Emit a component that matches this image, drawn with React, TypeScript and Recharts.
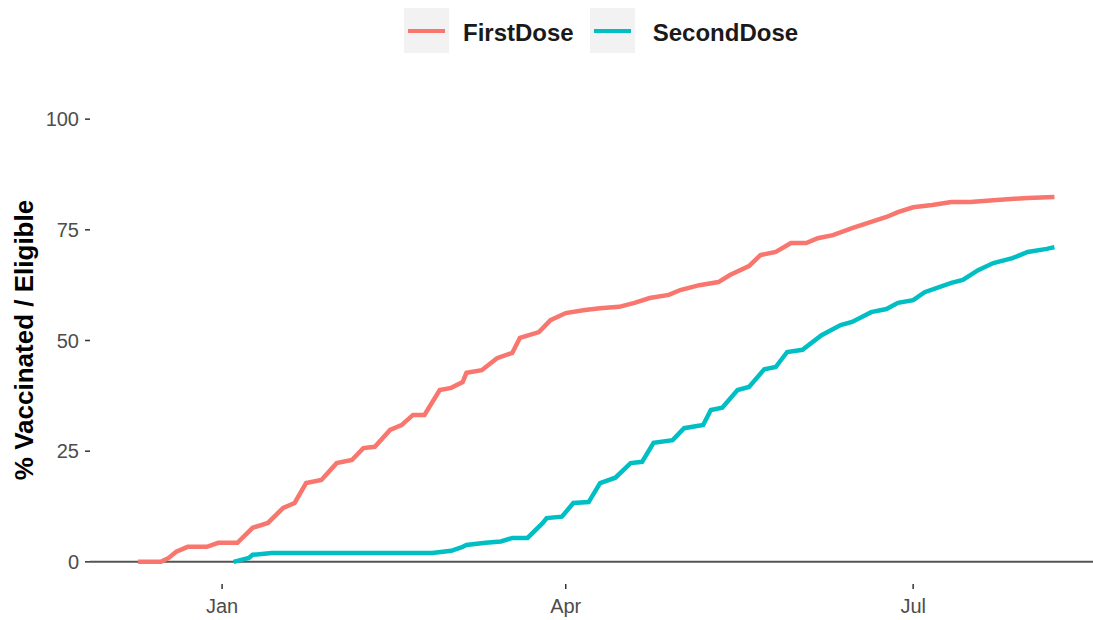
import React from "react";
import {
  LineChart,
  Line,
  XAxis,
  YAxis,
  ReferenceLine,
  Legend,
} from "recharts";

// days counted from 2021-01-01
const firstDoseDays = [
  -22, -16, -14, -12, -9, -4, -1, 4, 8, 12, 16, 19, 22, 26, 30, 34, 37, 40, 44,
  47, 50, 53, 57, 60, 63, 64, 68, 72, 76, 78, 83, 86, 90, 95, 99, 104, 108, 112,
  117, 120, 125, 130, 133, 138, 141, 145, 149, 153, 156, 160, 165, 169, 174, 177,
  181, 186, 191, 196, 202, 211, 218,
];
const firstDoseValues = [
  0, 0, 0.9, 2.3, 3.4, 3.4, 4.3, 4.3, 7.7, 8.8, 12.2, 13.3, 17.8, 18.5, 22.3, 23,
  25.7, 26, 29.8, 30.9, 33.2, 33.2, 38.8, 39.3, 40.6, 42.7, 43.3, 46, 47.2, 50.6,
  51.9, 54.6, 56.2, 56.9, 57.3, 57.6, 58.5, 59.6, 60.3, 61.4, 62.5, 63.2, 64.8,
  66.8, 69.3, 70, 72, 72, 73.1, 73.8, 75.4, 76.5, 77.9, 79, 80.1, 80.6, 81.3, 81.3,
  81.7, 82.2, 82.4,
];

const secondDoseDays = [
  3, 7, 8, 13, 55, 60, 63, 64, 69, 73, 76, 80, 84, 85, 89, 92, 96, 99, 103, 107,
  110, 113, 118, 121, 126, 128, 131, 135, 138, 142, 145, 148, 152, 157, 162, 165,
  170, 174, 177, 181, 184, 188, 191, 194, 198, 202, 207, 211, 216, 218,
];
const secondDoseValues = [
  0, 0.9, 1.6, 2, 2, 2.5, 3.4, 3.8, 4.3, 4.6, 5.4, 5.4, 8.8, 9.9, 10.2, 13.3, 13.5,
  17.8, 19, 22.3, 22.6, 26.9, 27.5, 30.2, 30.9, 34.3, 34.8, 38.8, 39.5, 43.5, 44,
  47.4, 47.9, 51.2, 53.5, 54.2, 56.4, 57.1, 58.5, 59.1, 60.9, 62.1, 63, 63.7, 65.9,
  67.5, 68.6, 70, 70.7, 71.1,
];

const xTicks = [0, 90, 181];
const xTickLabels = ["Jan", "Apr", "Jul"];
const yTicks = [0, 25, 50, 75, 100];

const seriesNames = ["FirstDose", "SecondDose"];
const seriesColors = ["#F8766D", "#00BFC4"];

const firstData = firstDoseDays.map((d, i) => ({ day: d, value: firstDoseValues[i] }));
const secondData = secondDoseDays.map((d, i) => ({ day: d, value: secondDoseValues[i] }));

const FONT = "'Liberation Sans', Arial, sans-serif";

function LegendContent() {
  return (
    <div
      style={{
        display: "flex",
        alignItems: "center",
        paddingLeft: 404,
        paddingTop: 8,
        height: 45,
        fontFamily: FONT,
      }}
    >
      {seriesNames.map((name, i) => (
        <div key={name} style={{ display: "flex", alignItems: "center" }}>
          <div
            style={{
              width: 45,
              height: 45,
              background: "#f2f2f2",
              display: "flex",
              alignItems: "center",
              justifyContent: "center",
            }}
          >
            <div style={{ width: 37, height: 4, background: seriesColors[i] }} />
          </div>
          <span
            style={{
              marginLeft: i === 0 ? 14 : 18,
              marginRight: i === 0 ? 16 : 0,
              paddingTop: 4,
              fontSize: 24,
              fontWeight: "bold",
              color: "#1a1a1a",
            }}
          >
            {name}
          </span>
        </div>
      ))}
    </div>
  );
}

function YTitle() {
  return (
    <text
      x={33}
      y={340}
      transform="rotate(-90 33 340)"
      textAnchor="middle"
      fontFamily={FONT}
      fontWeight="bold"
      fontSize={26}
      fill="#000"
    >
      % Vaccinated / Eligible
    </text>
  );
}

export default function App() {
  return (
    <div style={{ position: "absolute", left: 0, top: 0, background: "#fff" }}>
      <LineChart
        width={1093}
        height={620}
        margin={{ top: 44, right: 0, left: 0, bottom: 0 }}
      >
        <Legend
          verticalAlign="top"
          content={<LegendContent />}
          wrapperStyle={{ top: 0, left: 0, width: 1093 }}
        />
        <XAxis
          type="number"
          dataKey="day"
          domain={[-34.6, 228.1]}
          ticks={xTicks}
          tickFormatter={(v: number) => xTickLabels[xTicks.indexOf(v)]}
          axisLine={false}
          tickSize={5}
          tickMargin={10}
          height={36}
          tickLine={{ stroke: "#333", strokeWidth: 1.5 }}
          tick={{ fill: "#4d4d4d", fontSize: 20, fontFamily: FONT }}
          allowDataOverflow
        />
        <YAxis
          type="number"
          domain={[-5, 105]}
          ticks={yTicks}
          width={90}
          axisLine={false}
          tickSize={5}
          tickMargin={6}
          tickLine={{ stroke: "#333", strokeWidth: 1.5 }}
          tick={{ fill: "#4d4d4d", fontSize: 20, fontFamily: FONT }}
          label={<YTitle />}
          allowDataOverflow
        />
        <ReferenceLine y={0} stroke="#555" strokeWidth={2} />
        <Line
          data={firstData}
          dataKey="value"
          name="FirstDose"
          type="linear"
          stroke={seriesColors[0]}
          strokeWidth={4.5}
          dot={false}
          isAnimationActive={false}
        />
        <Line
          data={secondData}
          dataKey="value"
          name="SecondDose"
          type="linear"
          stroke={seriesColors[1]}
          strokeWidth={4.5}
          dot={false}
          isAnimationActive={false}
        />
      </LineChart>
    </div>
  );
}
